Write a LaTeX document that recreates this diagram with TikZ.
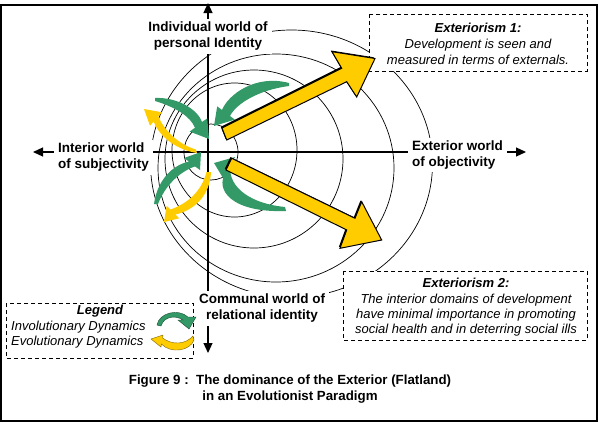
\documentclass[tikz,border=0pt]{standalone}
\usepackage{fontspec}
\setmainfont{Liberation Sans}
\usetikzlibrary{arrows.meta}
\definecolor{sgreen}{RGB}{51,153,102}
\definecolor{gold}{RGB}{255,204,0}
\begin{document}
\begin{tikzpicture}[x=1pt,y=-1pt,
  circ/.style={line width=0.7pt},
  axisline/.style={line width=1.2pt,-{Triangle[length=10pt,width=9pt]}},
  lab/.style={fill=white,inner xsep=4pt,inner ysep=3pt,font=\fontsize{13.5}{16}\selectfont\bfseries},
  dbox/.style={draw,dash pattern=on 4pt off 3pt,line width=0.8pt,fill=white},
  ital/.style={font=\fontsize{13}{16}\selectfont\itshape,align=center,inner sep=0pt},
  garrow/.style={fill=sgreen},
  yarrow/.style={fill=gold},
  bigarrow/.style={fill=gold,draw=black,line width=1pt,line join=miter}
]
\useasboundingbox (0,0) rectangle (599,423);
\draw[line width=1.5pt] (0.75,5) rectangle (597,421);

% circles
\draw[circ] (211,152) ellipse[x radius=27,y radius=28];
\draw[circ] (234.5,150) ellipse[x radius=62.5,y radius=67];
\draw[circ] (254,159) circle[radius=89];
\draw[circ] (276,168) ellipse[x radius=118,y radius=114];
\draw[circ] (291.5,163.7) ellipse[x radius=141,y radius=133.7];

% axes
\coordinate (o) at (208,152);
\coordinate (xl) at (33,152);
\coordinate (xr) at (526,152);
\coordinate (yt) at (208,3);
\coordinate (yb) at (208,353);
\draw[axisline] (o) -- (xl);
\draw[axisline] (o) -- (xr);
\draw[axisline] (o) -- (yt);
\draw[axisline] (o) -- (yb);

% axis labels
\node[lab,align=center] (indiv) at (208,36.5) {Individual world of\\personal Identity};
\node[lab,align=left,anchor=west] (inter) at (54,157.5) {Interior world\\of subjectivity};
\node[lab,align=left,anchor=west] (exter) at (408,155) {Exterior world\\of objectivity};
\node[lab,align=center] (comm) at (262,308.5) {Communal world of\\relational identity};

% boxes
\draw[dbox] (369,14) rectangle (587,71);
\node[ital] (ext1) at (478,43.5) {\textbf{Exteriorism 1:}\\Development is seen and\\measured in terms of externals.};
\draw[dbox] (343,271) rectangle (587,340);
\node[ital,font=\fontsize{13}{15.3}\selectfont\itshape] (ext2) at (466,307.5) {\textbf{Exteriorism 2:}\\The interior domains of development\\have minimal importance in promoting\\social health and in deterring social ills};
\draw[dbox] (6,303) rectangle (193,358);
\node[ital,anchor=base] (leg) at (100,314.5) {\textbf{Legend}};
\node[ital,anchor=base west] (inv) at (11,330.5) {Involutionary Dynamics};
\node[ital,anchor=base west] (evo) at (11,345.5) {Evolutionary Dynamics};

% curved green arrows
\fill[garrow] (289,83) .. controls (255,74) and (228,95) .. (222,110) -- (217.2,106.4) -- (214,126) -- (234.8,119.6) -- (230,116) .. controls (236,104) and (258,90) .. (289,86) -- cycle;
\fill[garrow] (286,211) .. controls (232,213) and (214,190) .. (226,172) -- (223,178) -- (214,163) -- (235,157) -- (231,163) .. controls (226,183) and (245,203) .. (285,207) -- cycle;
\fill[garrow] (155,98) .. controls (178,97) and (198,110) .. (202,122) -- (207.3,118.4) -- (209,139) -- (189.7,131.6) -- (195,127.7) .. controls (190,116) and (175,107) .. (155,101) -- cycle;
\fill[garrow] (154,204) .. controls (157,181) and (172,165) .. (189,161.6) -- (184,158) -- (201,152) -- (200,170) -- (195,166.4) .. controls (179,172) and (165,186) .. (158,204) -- cycle;

% curved yellow arrows
\fill[yarrow] (197,153) .. controls (178,150) and (160,138) .. (153.7,121.6) -- (150,125.7) -- (144,109) -- (162,112.3) -- (158.3,116.4) .. controls (165,132) and (180,145) .. (196,149.5) -- cycle;
\fill[yarrow] (211,172) .. controls (210,195) and (195,210) .. (175.5,214.5) -- (179.3,218.3) -- (164,222) -- (166.7,205.7) -- (170.5,209.5) .. controls (189,203) and (202,190) .. (206.5,172) -- cycle;

% big straight arrows
\fill[black,shift={(-1.2,-1.2)}] (222,128) -- (341.7,68.3) -- (332,51.7) -- (375,58.5) -- (356.7,97) -- (346.7,81.7) -- (226.7,140) -- cycle;
\draw[bigarrow] (222,128) -- (341.7,68.3) -- (332,51.7) -- (375,58.5) -- (356.7,97) -- (346.7,81.7) -- (226.7,140) -- cycle;
\fill[black,shift={(-1.2,-1.2)}] (231.7,158.3) -- (355,218.3) -- (361.7,201.7) -- (381.7,240) -- (340,248.3) -- (346.7,230) -- (226,170) -- cycle;
\draw[bigarrow] (231.7,158.3) -- (355,218.3) -- (361.7,201.7) -- (381.7,240) -- (340,248.3) -- (346.7,230) -- (226,170) -- cycle;

% legend arrows
\fill[garrow,draw=sgreen!50!black,line width=0.4pt] (157,325) .. controls (159,313) and (178,308) .. (188,317) -- (196,317) -- (189,329) -- (178,320) -- (183,320) .. controls (176,315) and (164,316) .. (161,326) -- cycle;
\fill[yarrow,draw=gold!50!black,line width=0.4pt] (193,336) -- (194,340) .. controls (190,351) and (171,354) .. (161.4,344) -- (161,347) -- (151,339) -- (163,335) -- (162.6,338) .. controls (172,345) and (185,345) .. (193,336) -- cycle;

% caption
\node[align=center,inner sep=0pt,font=\fontsize{13.3}{16}\selectfont\bfseries] (cap) at (290,389.5) {Figure 9 :\ \ The dominance of the Exterior (Flatland)\\in an Evolutionist Paradigm};
\end{tikzpicture}
\end{document}
